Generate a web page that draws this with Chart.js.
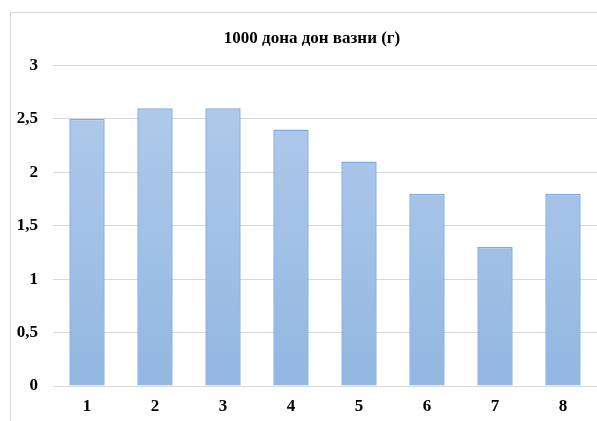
<!DOCTYPE html>
<html>
<head>
<meta charset="utf-8">
<script src="https://cdn.jsdelivr.net/npm/chart.js@4"></script>
<style>
  body { margin: 0; background: #fff; }
  #box {
    position: absolute; left: 10px; top: 12px;
    width: 586px; height: 408px;
    border-top: 1px solid #d9d9d9; border-left: 1px solid #d9d9d9;
  }
</style>
</head>
<body>
<div id="box"><canvas id="myChart" width="586" height="408"></canvas></div>
<script>
// chart data
const categories = ['1', '2', '3', '4', '5', '6', '7', '8'];
const weights = [2.5, 2.6, 2.6, 2.4, 2.1, 1.8, 1.3, 1.8];
const chartTitle = '1000 дона дон вазни (г)';

const serif = "'Liberation Serif', 'Times New Roman', serif";

// vertical gradient for the bars
function barFill(context) {
  const chart = context.chart;
  const area = chart.chartArea;
  if (!area) return '#a3c2e6';
  const g = chart.ctx.createLinearGradient(0, area.top, 0, area.bottom);
  g.addColorStop(0, '#b3cceb');
  g.addColorStop(1, '#92b7e2');
  return g;
}

// title sits a little right of canvas centre in the original
const shiftTitle = {
  id: 'shiftTitle',
  afterLayout(chart) {
    if (chart.titleBlock) chart.titleBlock.left = 16;
  }
};

const data = {
  labels: categories,
  datasets: [{
    data: weights,
    backgroundColor: barFill,
    borderColor: '#7eaadf',
    borderWidth: 1.5,
    barPercentage: 1,
    categoryPercentage: 0.52
  }]
};

const config = {
  type: 'bar',
  data: data,
  plugins: [shiftTitle],
  options: {
    responsive: false,
    animation: false,
    layout: { padding: { left: 0, right: 0, top: 0, bottom: 6 } },
    plugins: {
      legend: { display: false },
      tooltip: { enabled: false },
      title: {
        display: true,
        text: chartTitle,
        color: '#000',
        font: { family: serif, size: 17, weight: 'bold' },
        padding: { top: 15, bottom: 17 }
      }
    },
    scales: {
      x: {
        afterFit: function (scale) { scale.height = 29; },
        grid: { display: false },
        border: { display: false },
        ticks: {
          color: '#000',
          padding: 2,
          font: { family: serif, size: 17, weight: 'bold' }
        }
      },
      y: {
        min: 0,
        max: 3,
        afterFit: function (scale) { scale.width = 42; },
        grid: { color: '#d9d9d9', lineWidth: 1, drawTicks: false },
        border: { display: false },
        ticks: {
          stepSize: 0.5,
          color: '#000',
          padding: 15,
          font: { family: serif, size: 17, weight: 'bold' },
          callback: function (v) { return String(v).replace('.', ','); }
        }
      }
    }
  }
};

const myChart = new Chart(document.getElementById('myChart'), config);
</script>
</body>
</html>
